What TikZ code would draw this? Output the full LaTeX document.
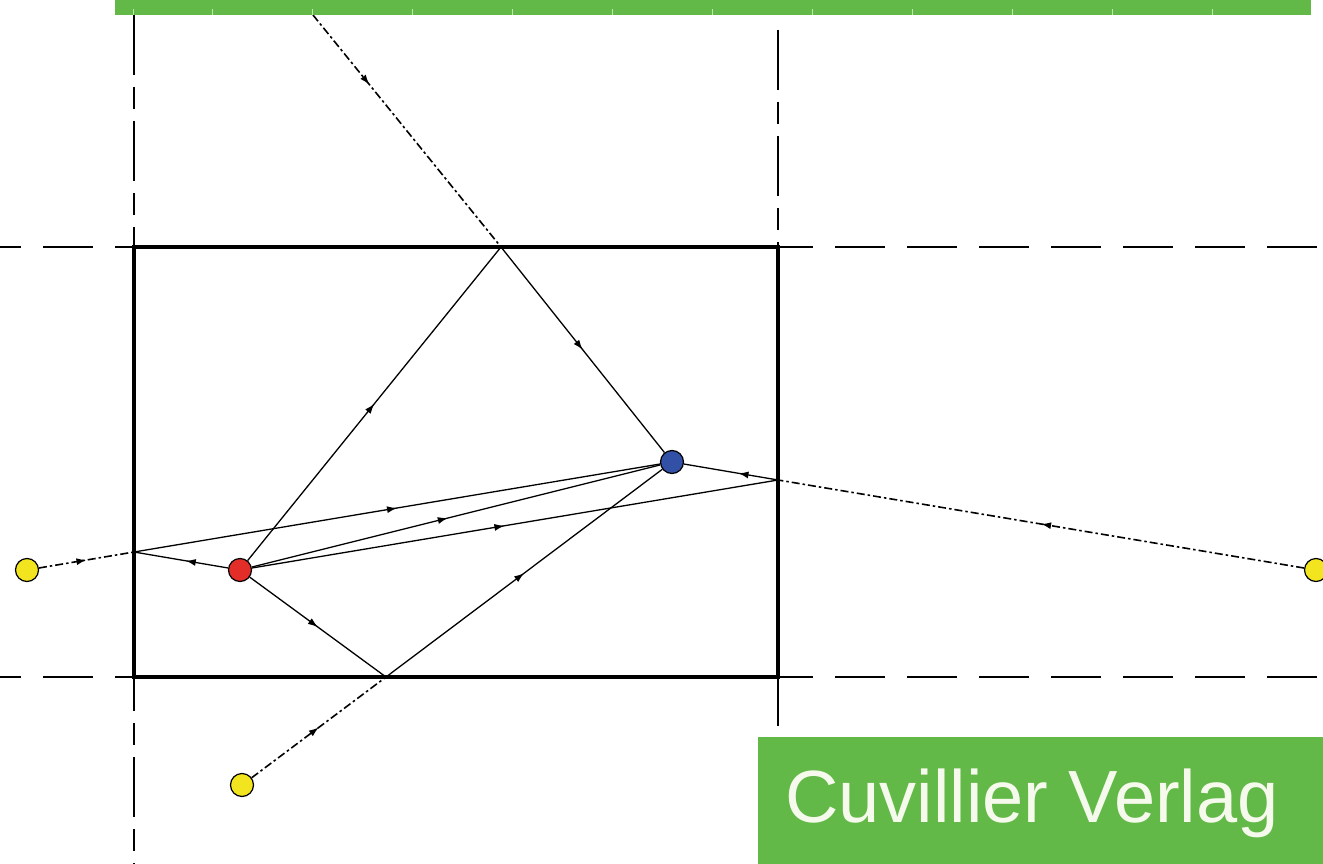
\documentclass[tikz,border=0pt]{standalone}
\usepackage{fontspec}
\setmainfont{Liberation Sans}
\usetikzlibrary{arrows.meta,decorations.markings}
\definecolor{vgreen}{RGB}{99,185,72}
\definecolor{tickgreen}{RGB}{190,230,175}
\definecolor{creamw}{RGB}{246,250,236}
\definecolor{dred}{RGB}{226,45,40}
\definecolor{dblue}{RGB}{50,80,165}
\definecolor{dyellow}{RGB}{242,228,30}
\tikzset{
  raytip/.style={postaction={decorate},decoration={markings,mark=at position #1 with {\arrow{Latex[length=10pt,width=7pt]}}}},
  rayline/.style={line width=1.3pt,draw=black},
  imgray/.style={line width=1.6pt,draw=black,dash pattern=on 8pt off 3pt on 2.5pt off 3pt},
  wallh/.style={line width=2.2pt,draw=black,dash pattern=on 50pt off 22pt},
  wallv/.style={line width=2.2pt,draw=black,dash pattern=on 60pt off 12pt on 22pt off 12pt},
  ballnode/.style={circle,draw=black,line width=1.2pt,minimum size=23pt,inner sep=0pt},
}
\begin{document}
\begin{tikzpicture}[x=1pt,y=-1pt]
\useasboundingbox (0,0) rectangle (1323,864);
\fill[white] (0,0) rectangle (1323,864);
% wall extension lines
\draw[wallh] (-29,247) -- (1323,247);
\draw[wallh] (-29,677) -- (1323,677);
\draw[wallv] (134,15) -- (134,864);
\draw[wallv] (778,30) -- (778,740);
% room
\draw[line width=4.5pt] (134,247) rectangle (778,677);
% reflection points
\coordinate (pt) at (501,247);
\coordinate (pb) at (386,677);
\coordinate (pl) at (134,552);
\coordinate (pr) at (778,480);
\coordinate (topin) at (313,15);
% sources
\node[ballnode,fill=dred] (src) at (240,570) {};
\node[ballnode,fill=dblue] (rcv) at (672,462) {};
\node[ballnode,fill=dyellow] (il) at (27,570) {};
\node[ballnode,fill=dyellow] (ir) at (1316,570) {};
\node[ballnode,fill=dyellow] (ib) at (242,785) {};
% rays
\draw[rayline,raytip=0.5] (src) -- (pt);
\draw[rayline,raytip=0.5] (pt) -- (rcv);
\draw[imgray,raytip=0.3] (topin) -- (pt);
\draw[rayline,raytip=0.5] (src) -- (pb);
\draw[rayline,raytip=0.5] (pb) -- (rcv);
\draw[imgray,raytip=0.5] (ib) -- (pb);
\draw[rayline,raytip=0.45] (src) -- (pl);
\draw[rayline,raytip=0.5] (pl) -- (rcv);
\draw[imgray,raytip=0.5] (il) -- (pl);
\draw[rayline,raytip=0.48] (src) -- (rcv);
\draw[rayline,raytip=0.48] (src) -- (pr);
\draw[rayline,raytip=0.42] (pr) -- (rcv);
\draw[imgray,raytip=0.5] (ir) -- (pr);
% top bar
\fill[vgreen] (115,0) rectangle (1311,15);
\foreach \x in {133,212,312,412,512,612,712,812,912,1012,1112,1212}
  \draw[tickgreen,line width=1pt] (\x,9) -- (\x,15);
% publisher box
\fill[vgreen] (758,737) rectangle (1323,864);
\node[anchor=base west,inner sep=0pt,text=creamw,font=\fontsize{74}{80}\selectfont] (brand) at (785,822) {Cuvillier Verlag};
\end{tikzpicture}
\end{document}
